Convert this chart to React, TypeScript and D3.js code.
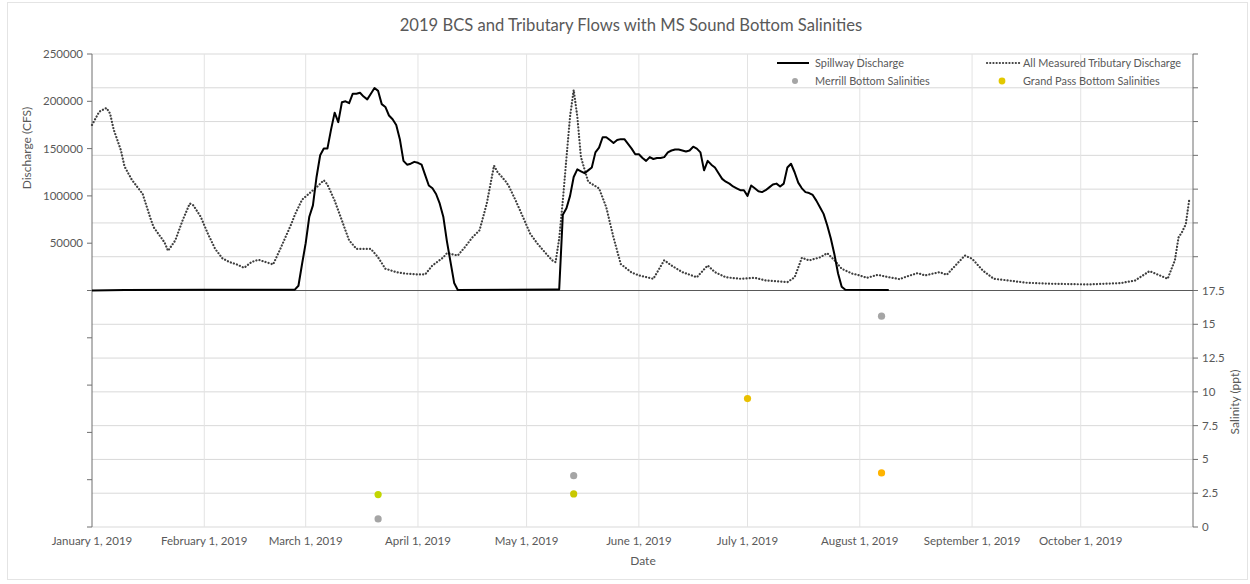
import React from "react";
import * as d3 from "d3";

const W = 1250;
const H = 584;
const M = { left: 92, right: 1193, top: 54, bottom: 527 };
const FONT = "Lato, 'Open Sans', sans-serif";
const TXT = "#595959";

// daily spillway discharge (cfs)
const spillway: [string, number][] = [
  ["2019-01-01", 0], ["2019-01-10", 500], ["2019-02-01", 900], ["2019-02-26", 900],
  ["2019-02-27", 5000], ["2019-02-28", 28000], ["2019-03-01", 50000], ["2019-03-02", 78000],
  ["2019-03-03", 90000], ["2019-03-04", 120000], ["2019-03-05", 143000], ["2019-03-06", 150000],
  ["2019-03-07", 150000], ["2019-03-08", 170000], ["2019-03-09", 188000], ["2019-03-10", 178000],
  ["2019-03-11", 199000], ["2019-03-12", 200000], ["2019-03-13", 198000], ["2019-03-14", 208000],
  ["2019-03-15", 208000], ["2019-03-16", 209000], ["2019-03-17", 205000], ["2019-03-18", 202000],
  ["2019-03-19", 208000], ["2019-03-20", 214000], ["2019-03-21", 211000], ["2019-03-22", 197000],
  ["2019-03-23", 194000], ["2019-03-24", 185000], ["2019-03-25", 181000], ["2019-03-26", 175000],
  ["2019-03-27", 160000], ["2019-03-28", 137000], ["2019-03-29", 133000], ["2019-03-30", 134000],
  ["2019-03-31", 136000], ["2019-04-01", 135000], ["2019-04-02", 133000], ["2019-04-03", 122000],
  ["2019-04-04", 111000], ["2019-04-05", 108000], ["2019-04-06", 102000], ["2019-04-07", 92000],
  ["2019-04-08", 78000], ["2019-04-09", 52000], ["2019-04-10", 30000], ["2019-04-11", 8000],
  ["2019-04-12", 500], ["2019-05-09", 1000], ["2019-05-10", 1000], ["2019-05-11", 80000],
  ["2019-05-12", 87000], ["2019-05-13", 100000], ["2019-05-14", 120000], ["2019-05-15", 128000],
  ["2019-05-16", 126000], ["2019-05-17", 124000], ["2019-05-18", 127000], ["2019-05-19", 130000],
  ["2019-05-20", 146000], ["2019-05-21", 151000], ["2019-05-22", 162000], ["2019-05-23", 162000],
  ["2019-05-24", 159000], ["2019-05-25", 156000], ["2019-05-26", 159000], ["2019-05-27", 160000],
  ["2019-05-28", 160000], ["2019-05-29", 155000], ["2019-05-30", 150000], ["2019-05-31", 144000],
  ["2019-06-01", 144000], ["2019-06-02", 140000], ["2019-06-03", 137000], ["2019-06-04", 141000],
  ["2019-06-05", 139000], ["2019-06-06", 140000], ["2019-06-07", 140000], ["2019-06-08", 141000],
  ["2019-06-09", 146000], ["2019-06-10", 148000], ["2019-06-11", 149000], ["2019-06-12", 149000],
  ["2019-06-13", 148000], ["2019-06-14", 147000], ["2019-06-15", 148000], ["2019-06-16", 152000],
  ["2019-06-17", 150000], ["2019-06-18", 146000], ["2019-06-19", 127000], ["2019-06-20", 137000],
  ["2019-06-21", 133000], ["2019-06-22", 130000], ["2019-06-23", 124000], ["2019-06-24", 118000],
  ["2019-06-25", 115000], ["2019-06-26", 113000], ["2019-06-27", 110000], ["2019-06-28", 108000],
  ["2019-06-29", 106000], ["2019-06-30", 106000], ["2019-07-01", 100000], ["2019-07-02", 111000],
  ["2019-07-03", 108000], ["2019-07-04", 105000], ["2019-07-05", 104000], ["2019-07-06", 106000],
  ["2019-07-07", 109000], ["2019-07-08", 112000], ["2019-07-09", 113000], ["2019-07-10", 110000],
  ["2019-07-11", 113000], ["2019-07-12", 130000], ["2019-07-13", 134000], ["2019-07-14", 125000],
  ["2019-07-15", 114000], ["2019-07-16", 108000], ["2019-07-17", 104000], ["2019-07-18", 103000],
  ["2019-07-19", 101000], ["2019-07-20", 95000], ["2019-07-21", 88000], ["2019-07-22", 81000],
  ["2019-07-23", 69000], ["2019-07-24", 55000], ["2019-07-25", 38000], ["2019-07-26", 18000],
  ["2019-07-27", 4000], ["2019-07-28", 800], ["2019-08-09", 500],
];

// all measured tributary discharge (cfs)
const tributary: [string, number][] = [
  ["2019-01-01", 175000], ["2019-01-03", 189000], ["2019-01-05", 193000], ["2019-01-06", 187000],
  ["2019-01-07", 170000], ["2019-01-09", 148000], ["2019-01-10", 131000], ["2019-01-12", 117000],
  ["2019-01-15", 102000], ["2019-01-17", 78000], ["2019-01-18", 67000], ["2019-01-21", 51000],
  ["2019-01-22", 42000], ["2019-01-24", 53000], ["2019-01-26", 74000], ["2019-01-28", 92000],
  ["2019-01-29", 90000], ["2019-01-31", 78000], ["2019-02-02", 60000], ["2019-02-04", 44000],
  ["2019-02-06", 34000], ["2019-02-08", 30000], ["2019-02-10", 27500], ["2019-02-12", 24000],
  ["2019-02-14", 30000], ["2019-02-16", 32500], ["2019-02-18", 30000], ["2019-02-20", 27500],
  ["2019-02-22", 44000], ["2019-02-25", 70000], ["2019-02-26", 80000], ["2019-02-28", 96000],
  ["2019-03-03", 106000], ["2019-03-04", 109000], ["2019-03-06", 116500], ["2019-03-07", 112000],
  ["2019-03-09", 95000], ["2019-03-11", 74000], ["2019-03-13", 53000], ["2019-03-15", 44000],
  ["2019-03-17", 44000], ["2019-03-19", 44000], ["2019-03-21", 35000], ["2019-03-23", 23000],
  ["2019-03-26", 19400], ["2019-03-29", 17700], ["2019-04-01", 17000], ["2019-04-03", 17000],
  ["2019-04-05", 26500], ["2019-04-08", 35000], ["2019-04-09", 39500], ["2019-04-12", 37000],
  ["2019-04-14", 46000], ["2019-04-16", 56000], ["2019-04-18", 63600], ["2019-04-20", 92000],
  ["2019-04-22", 132000], ["2019-04-23", 125000], ["2019-04-25", 116500], ["2019-04-26", 111000],
  ["2019-04-28", 95000], ["2019-04-30", 77600], ["2019-05-02", 60000], ["2019-05-04", 49500],
  ["2019-05-06", 40600], ["2019-05-08", 32000], ["2019-05-09", 30000], ["2019-05-10", 55000],
  ["2019-05-11", 95000], ["2019-05-12", 140000], ["2019-05-13", 184000], ["2019-05-14", 212000],
  ["2019-05-15", 184000], ["2019-05-16", 141000], ["2019-05-18", 115000], ["2019-05-21", 108000],
  ["2019-05-23", 88000], ["2019-05-25", 56000], ["2019-05-27", 28000], ["2019-05-30", 19000],
  ["2019-06-01", 16000], ["2019-06-05", 12400], ["2019-06-08", 32000], ["2019-06-10", 26500],
  ["2019-06-13", 19400], ["2019-06-17", 14000], ["2019-06-20", 26500], ["2019-06-22", 19400],
  ["2019-06-25", 14000], ["2019-06-29", 12400], ["2019-07-03", 13400], ["2019-07-06", 10600],
  ["2019-07-12", 8800], ["2019-07-14", 14000], ["2019-07-16", 34600], ["2019-07-18", 31800],
  ["2019-07-21", 35000], ["2019-07-23", 39500], ["2019-07-25", 32000], ["2019-07-27", 23000],
  ["2019-07-30", 17700], ["2019-07-31", 17000], ["2019-08-03", 13400], ["2019-08-06", 16600],
  ["2019-08-08", 14800], ["2019-08-12", 12000], ["2019-08-14", 14800], ["2019-08-17", 18400],
  ["2019-08-19", 15900], ["2019-08-23", 19400], ["2019-08-25", 16600], ["2019-08-30", 37000],
  ["2019-09-01", 33600], ["2019-09-04", 21000], ["2019-09-07", 12400], ["2019-09-11", 10600],
  ["2019-09-16", 8200], ["2019-09-23", 7100], ["2019-10-03", 6400], ["2019-10-12", 7800],
  ["2019-10-16", 10600], ["2019-10-20", 20500], ["2019-10-25", 12400], ["2019-10-27", 32000],
  ["2019-10-28", 56000], ["2019-10-29", 62000], ["2019-10-30", 70000], ["2019-10-31", 97000],
];

// bottom salinities (ppt)
const merrill: [string, number][] = [
  ["2019-03-21", 0.6], ["2019-05-14", 3.8], ["2019-08-07", 15.6],
];
const grandPass: [string, number][] = [
  ["2019-03-21", 2.4], ["2019-05-14", 2.45], ["2019-07-01", 9.5], ["2019-08-07", 4.0],
];
const grandPassColors = ["#c2d600", "#c9c800", "#e9c000", "#ffb400"];

const leftTicks = d3.range(-250000, 250001, 50000);
const rightTicks = d3.range(0, 35.01, 2.5);

const parse = d3.timeParse("%Y-%m-%d");
const DOTS = { strokeDasharray: "0.1 3.1", strokeLinecap: "round" as const };

export default function App() {
  const x = d3
    .scaleTime()
    .domain([parse("2019-01-01")!, parse("2019-11-01")!])
    .range([M.left, M.right]);
  const yL = d3.scaleLinear().domain([-250000, 250000]).range([M.bottom, M.top]);
  const yR = d3.scaleLinear().domain([0, 35]).range([M.bottom, M.top]);

  const line = d3
    .line<[string, number]>()
    .x((d) => x(parse(d[0])!))
    .y((d) => yL(d[1]));

  const months = d3.timeMonth.range(parse("2019-01-01")!, parse("2019-11-01")!);
  const fmt = d3.timeFormat("%B %-d, %Y");

  return (
    <div style={{ position: "absolute", left: 0, top: 0 }}>
      <svg width={W} height={H} style={{ display: "block", background: "#fff" }} fontFamily={FONT}>
        <rect x={7.5} y={2.5} width={1240} height={577} fill="#fff" stroke="#e4e4e4" />

        {/* horizontal gridlines from salinity axis */}
        {rightTicks.map((t) => (
          <line key={"hg" + t} x1={M.left} x2={M.right} y1={yR(t)} y2={yR(t)} stroke="#d9d9d9" strokeWidth={1} />
        ))}
        {/* vertical month gridlines */}
        {months.slice(1).map((m) => (
          <line key={"vg" + +m} x1={x(m)} x2={x(m)} y1={M.top} y2={M.bottom} stroke="#e3e3e3" strokeWidth={1} />
        ))}

        {/* axes */}
        <line x1={M.left} x2={M.left} y1={M.top} y2={M.bottom} stroke="#6f6f6f" />
        <line x1={M.right} x2={M.right} y1={M.top} y2={M.bottom} stroke="#6f6f6f" />
        <line x1={M.left} x2={M.right} y1={yL(0)} y2={yL(0)} stroke="#595959" strokeWidth={1.2} />

        {leftTicks.map((t) => (
          <g key={"lt" + t}>
            <line x1={M.left - 5} x2={M.left} y1={yL(t)} y2={yL(t)} stroke="#6f6f6f" />
            {t > 0 && (
              <text x={M.left - 9} y={yL(t)} dy="0.35em" textAnchor="end" fontSize={11.5} fill={TXT}>
                {t}
              </text>
            )}
          </g>
        ))}
        {rightTicks.map((t) => (
          <g key={"rt" + t}>
            <line x1={M.right} x2={M.right + 5} y1={yR(t)} y2={yR(t)} stroke="#6f6f6f" />
            {t <= 17.5 && (
              <text x={M.right + 9} y={yR(t)} dy="0.35em" fontSize={11.5} fill={TXT}>
                {t}
              </text>
            )}
          </g>
        ))}
        {months.map((m) => (
          <text key={"xl" + +m} x={x(m)} y={541} dy="0.35em" textAnchor="middle" fontSize={11.5} fill={TXT}>
            {fmt(m)}
          </text>
        ))}

        {/* series */}
        <path d={line(tributary) || ""} fill="none" stroke="#3f3f3f" strokeWidth={2.2} {...DOTS} />
        <path d={line(spillway) || ""} fill="none" stroke="#000" strokeWidth={2} strokeLinejoin="round" />

        {merrill.map((d) => (
          <circle key={"m" + d[0]} cx={x(parse(d[0])!)} cy={yR(d[1])} r={3.6} fill="#a5a5a5" />
        ))}
        {grandPass.map((d, i) => (
          <circle key={"g" + d[0]} cx={x(parse(d[0])!)} cy={yR(d[1])} r={3.6} fill={grandPassColors[i]} />
        ))}

        {/* legend */}
        <g fontSize={10.9} fill={TXT}>
          <line x1={777} x2={809} y1={63} y2={63} stroke="#000" strokeWidth={2} />
          <text x={815} y={63} dy="0.35em">Spillway Discharge</text>
          <line x1={987} x2={1020} y1={63} y2={63} stroke="#3f3f3f" strokeWidth={2.2} {...DOTS} />
          <text x={1023} y={63} dy="0.35em">All Measured Tributary Discharge</text>
          <circle cx={795} cy={81} r={3} fill="#a5a5a5" />
          <text x={815} y={81} dy="0.35em">Merrill Bottom Salinities</text>
          <circle cx={1002} cy={81} r={3.4} fill="#e2c800" />
          <text x={1023} y={81} dy="0.35em">Grand Pass Bottom Salinities</text>
        </g>

        {/* titles */}
        <text x={631} y={25} dy="0.35em" textAnchor="middle" fontSize={16.6} fill={TXT}>
          2019 BCS and Tributary Flows with MS Sound Bottom Salinities
        </text>
        <text transform="translate(27,148) rotate(-90)" dy="0.35em" textAnchor="middle" fontSize={12} fill={TXT}>
          Discharge (CFS)
        </text>
        <text transform="translate(1235,402) rotate(-90)" dy="0.35em" textAnchor="middle" fontSize={12} fill={TXT}>
          Salinity (ppt)
        </text>
        <text x={643} y={561} dy="0.35em" textAnchor="middle" fontSize={12} fill={TXT}>
          Date
        </text>
      </svg>
    </div>
  );
}
